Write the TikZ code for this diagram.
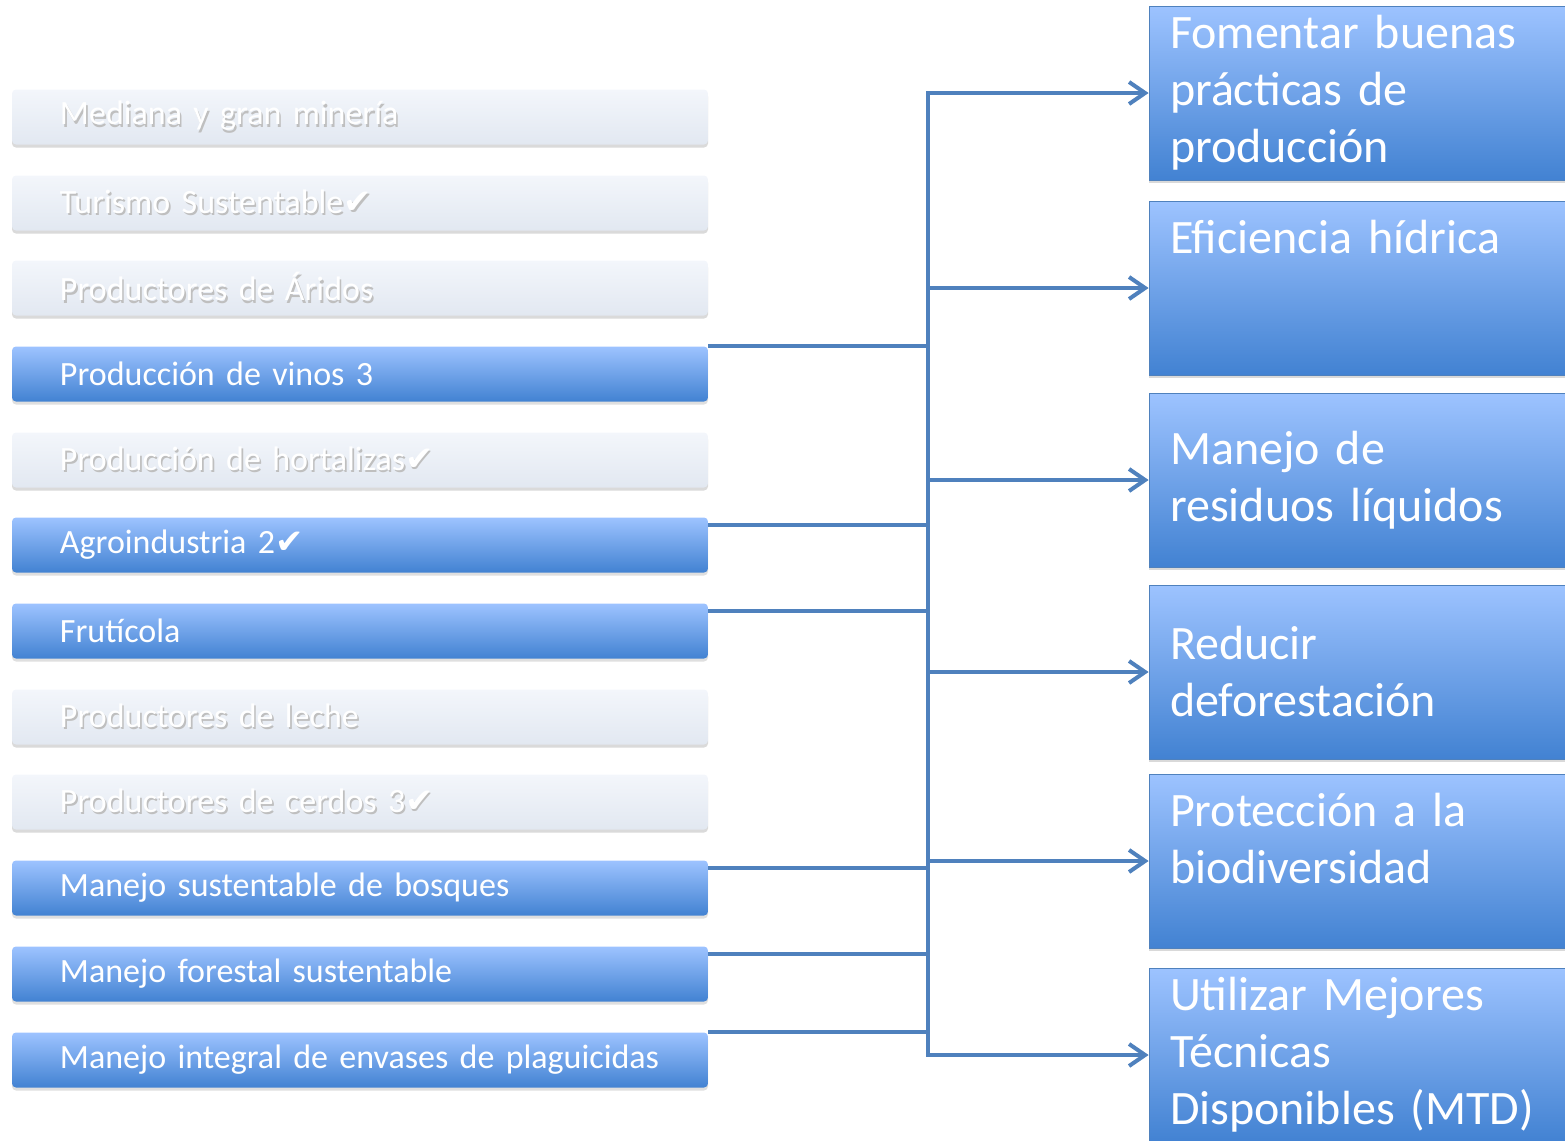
\documentclass[tikz,border=0pt]{standalone}
\usepackage{fontspec}
\setmainfont{Carlito}
\newfontfamily\checkfont{DejaVu Sans}
\usetikzlibrary{arrows.meta,shadows}
\definecolor{linkblue}{RGB}{79,129,189}
\definecolor{ontop}{RGB}{157,195,255}
\definecolor{onbot}{RGB}{66,130,210}
\definecolor{offtop}{RGB}{243,246,251}
\definecolor{offbot}{RGB}{226,232,241}
\newcommand{\chk}{{\checkfont ✔}}
\newcommand{\ghost}[1]{\makebox[0pt][l]{\hspace{0.8pt}\raisebox{-1.2pt}{\color{black!25}#1}}{\color{white}#1}}

\begin{document}
\begin{tikzpicture}[x=0.5pt,y=-0.5pt,
  onbox/.style={rounded corners=2pt, top color=ontop, bottom color=onbot, text=white,
    minimum height=27.5pt, text width=300pt, inner xsep=24pt, inner ysep=0pt, align=left,
    font=\fontsize{17}{20}\selectfont,
    drop shadow={shadow xshift=0pt, shadow yshift=-1.5pt, opacity=0.25}},
  offbox/.style={onbox, top color=offtop, bottom color=offbot,
    drop shadow={shadow xshift=0pt, shadow yshift=-1.5pt, opacity=0.06}},
  goalbox/.style={draw=linkblue, line width=0.4pt, top color=ontop, bottom color=onbot, text=white,
    minimum height=87pt, text width=192pt, inner xsep=10.5pt, align=left,
    font=\fontsize{24}{28.5}\selectfont,
    drop shadow={shadow xshift=0pt, shadow yshift=-1.5pt, opacity=0.3}},
  toptext/.style={text height=17.5pt, text depth=52.5pt},
  link/.style={draw=linkblue, line width=2pt},
  arrow/.style={link, -{Straight Barb[length=8pt,width=11pt]}}]
\useasboundingbox (0,0) rectangle (1565,1141);
\node[offbox] (mineria) at (360,117) {\ghost{Mediana y gran minería}};
\node[offbox] (turismo) at (360,203) {\ghost{Turismo Sustentable\chk}};
\node[offbox] (aridos) at (360,288) {\ghost{Productores de Áridos}};
\node[onbox] (vinos) at (360,374) {Producción de vinos 3};
\node[offbox] (hortalizas) at (360,460) {\ghost{Producción de hortalizas\chk}};
\node[onbox] (agro) at (360,545) {Agroindustria 2\chk};
\node[onbox] (fruticola) at (360,631) {Frutícola};
\node[offbox] (leche) at (360,717) {\ghost{Productores de leche}};
\node[offbox] (cerdos) at (360,802) {\ghost{Productores de cerdos 3\chk}};
\node[onbox] (bosques) at (360,888) {Manejo sustentable de bosques};
\node[onbox] (forestal) at (360,974) {Manejo forestal sustentable};
\node[onbox] (envases) at (360,1060) {Manejo integral de envases de plaguicidas};

\node[goalbox] (fomentar) at (1362,93) {Fomentar buenas\\prácticas de\\producción};
\node[goalbox, toptext] (eficiencia) at (1362,288) {Eficiencia hídrica};
\node[goalbox] (liquidos) at (1362,480) {Manejo de\\residuos líquidos};
\node[goalbox] (deforestacion) at (1362,672) {Reducir\\deforestación};
\node[goalbox, toptext] (biodiversidad) at (1362,861) {Protección a la\\biodiversidad};
\node[goalbox] (mtd) at (1362,1055) {Utilizar Mejores\\Técnicas\\Disponibles (MTD)};

\coordinate (trunk) at (928,0);
\draw[link] (vinos.north east) -- (vinos.north east -| trunk);
\draw[link] ([yshift=-4pt]agro.north east) -- ([yshift=-4pt]agro.north east -| trunk);
\draw[link] ([yshift=-4pt]fruticola.north east) -- ([yshift=-4pt]fruticola.north east -| trunk);
\draw[link] ([yshift=-4pt]bosques.north east) -- ([yshift=-4pt]bosques.north east -| trunk);
\draw[link] ([yshift=-4pt]forestal.north east) -- ([yshift=-4pt]forestal.north east -| trunk);
\draw[link] (envases.north east) -- (envases.north east -| trunk);
\draw[arrow] (trunk |- eficiencia.west) |- (fomentar.west);
\draw[arrow] (trunk |- fomentar.west) |- (mtd.west);
\foreach \g in {eficiencia,liquidos,deforestacion,biodiversidad}
  \draw[arrow] (trunk |- \g.west) -- (\g.west);
\end{tikzpicture}
\end{document}
